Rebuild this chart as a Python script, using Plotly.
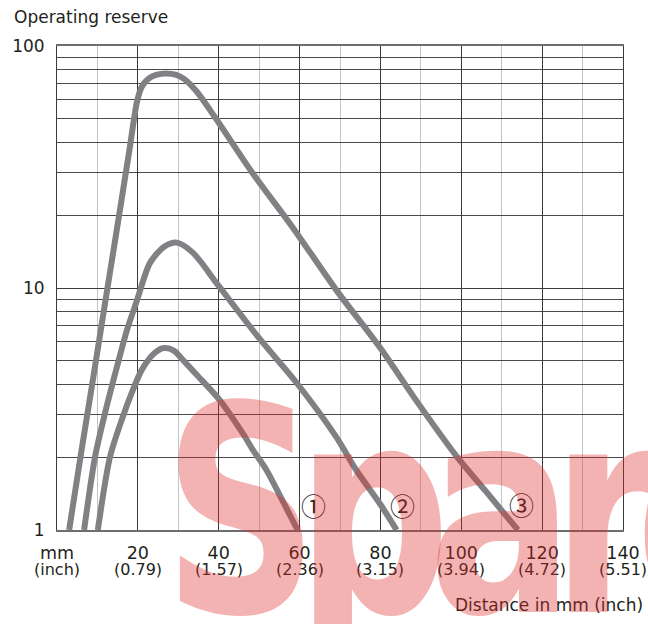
import math
import plotly.graph_objects as go

# ---- data ----
c1_x = [10.1, 13.1, 16.0, 18.8, 21.0, 24.2, 26.5, 29.0, 31.1, 35.0, 40.2, 46.0, 48.4, 51.8, 55.5, 59.5]
c1_y = [1.0, 2.0, 2.85, 3.8, 4.6, 5.4, 5.65, 5.5, 5.05, 4.3, 3.45, 2.5, 2.15, 1.77, 1.35, 1.0]

c2_x = [6.7, 9.4, 11.9, 14.8, 17.3, 19.8, 23.0, 26.5, 29.6, 33.6, 39.8, 50.0, 59.3, 69.1, 74.0, 79.8, 84.0]
c2_y = [1.0, 2.0, 3.05, 4.7, 6.7, 8.9, 12.7, 14.8, 15.4, 14.0, 10.3, 6.2, 4.05, 2.42, 1.77, 1.29, 1.0]

c3_x = [3.0, 6.0, 9.0, 12.0, 15.0, 18.0, 19.8, 21.0, 22.5, 24.5, 27.0, 29.5, 31.5, 34.5, 39.0, 48.4, 58.3,
        69.1, 79.8, 89.0, 99.0, 106.0, 114.0]
c3_y = [1.0, 2.1, 4.3, 8.9, 18.3, 38.0, 59.0, 68.0, 73.0, 76.0, 77.0, 76.0, 73.0, 65.0, 51.0, 29.8, 17.8,
        9.8, 5.7, 3.4, 2.0, 1.45, 1.0]

curve_labels = ["①", "②", "③"]
curve_label_x = [63.5, 85.4, 115.0]
curve_label_y = [1.27, 1.27, 1.28]

x_tick_vals = [0, 20, 40, 60, 80, 100, 120, 140]
x_tick_mm = ["mm", "20", "40", "60", "80", "100", "120", "140"]
x_tick_inch = ["(inch)", "(0.79)", "(1.57)", "(2.36)", "(3.15)", "(3.94)", "(4.72)", "(5.51)"]
y_tick_vals = [1, 10, 100]
y_tick_text = ["1", "10", "100"]
y_minor_vals = [2, 3, 4, 5, 6, 7, 8, 9, 20, 30, 40, 50, 60, 70, 80, 90]

FONT = "DejaVu Sans"
TXT = "#231f20"
LINE = "#808184"

fig = go.Figure()
for xs, ys in [(c1_x, c1_y), (c2_x, c2_y), (c3_x, c3_y)]:
    fig.add_trace(go.Scatter(x=xs, y=ys, mode="lines",
                             line=dict(color=LINE, width=6, shape="spline", smoothing=0.8),
                             showlegend=False, hoverinfo="skip"))

fig.update_layout(
    width=648, height=624,
    margin=dict(l=57, r=25, t=46, b=94, autoexpand=False),
    paper_bgcolor="white", plot_bgcolor="white",
    font=dict(family=FONT, color=TXT, size=17),
    showlegend=False,
)

fig.update_xaxes(
    range=[0, 140], tickvals=x_tick_vals, ticktext=x_tick_mm,
    showgrid=True, gridcolor="#3a3a3a", gridwidth=1,
    minor=dict(dtick=10, showgrid=True, gridcolor="#c4c4c4", gridwidth=1),
    showline=True, linecolor="#6d6d6d", linewidth=2, mirror=True,
    ticks="", ticklabelstandoff=6, tickfont=dict(size=17.5, family=FONT, color=TXT),
    zeroline=False, automargin=False,
)
fig.update_yaxes(
    type="log", range=[0, 2], tickvals=y_tick_vals, ticktext=y_tick_text,
    showgrid=True, gridcolor="#3a3a3a", gridwidth=1,
    minor=dict(tickvals=y_minor_vals, showgrid=True, gridcolor="#4a4a4a", gridwidth=1),
    showline=True, linecolor="#3a3a3a", linewidth=1, mirror=True,
    ticks="", ticklabelstandoff=8, tickfont=dict(size=17, family=FONT, color=TXT),
    zeroline=False, automargin=False,
)

annotations = []
# inch row under the mm tick labels
for xv, t in zip(x_tick_vals, x_tick_inch):
    annotations.append(dict(x=xv, y=-0.081, xref="x", yref="paper", text=t, showarrow=False,
                            xanchor="center", yanchor="middle",
                            font=dict(size=16, family=FONT, color=TXT)))
# curve number labels (log axis -> annotation y in log10 units)
for t, xv, yv in zip(curve_labels, curve_label_x, curve_label_y):
    annotations.append(dict(x=xv, y=math.log10(yv), xref="x", yref="y", yanchor="middle",
                            xanchor="center", text=t, showarrow=False,
                            font=dict(size=25, family="Noto Sans CJK JP", color="#2a2020")))
# axis titles
annotations.append(dict(x=-45 / 566, y=1 + 29 / 484, xref="paper", yref="paper",
                        text="Operating reserve", showarrow=False, xanchor="left", yanchor="middle",
                        font=dict(size=17, family=FONT, color=TXT)))
annotations.append(dict(x=1 + 22 / 566, y=-75 / 484, xref="paper", yref="paper",
                        text="Distance in mm (inch)", showarrow=False,
                        xanchor="right", yanchor="middle",
                        font=dict(size=17, family=FONT, color=TXT)))
# watermark
annotations.append(dict(x=29 / 566, y=18 / 484, xref="paper", yref="paper", text="<b>Spare</b>",
                        showarrow=False, xanchor="left", yanchor="middle",
                        font=dict(size=288, family=FONT, color="rgba(225,45,45,0.36)")))
fig.update_layout(annotations=annotations)

post = """
document.body.style.margin = '0';
document.documentElement.style.overflow = 'hidden';
document.body.style.overflow = 'hidden';
var gd = document.getElementById('{plot_id}');
function squeezeWatermark() {
  var ts = gd.querySelectorAll('g.annotation text.annotation-text');
  ts.forEach(function (t) {
    if (t.textContent === 'Spare') {
      t.style.letterSpacing = '-30px';
      t.style.transformBox = 'fill-box';
      t.style.transformOrigin = '0% 50%';
      t.style.transform = 'scale(0.75, 1)';
    }
  });
}
squeezeWatermark();
if (gd.on) { gd.on('plotly_afterplot', squeezeWatermark); }
"""

fig.write_html("out.html", post_script=post, config={"displayModeBar": False})
